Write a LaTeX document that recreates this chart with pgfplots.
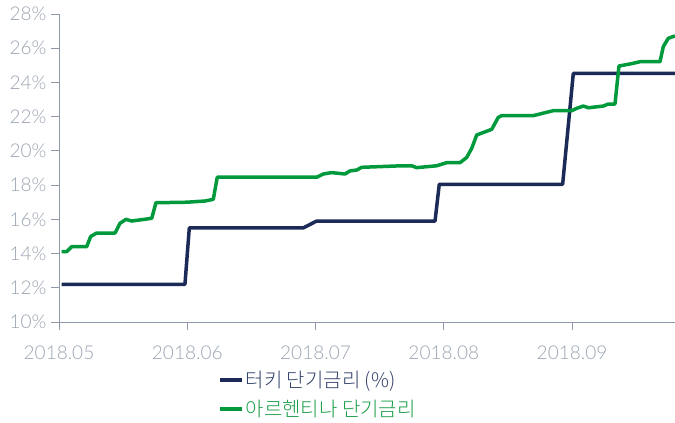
\documentclass[border=0pt]{standalone}
\usepackage{pgfplots}
\pgfplotsset{compat=1.18}
\usepackage{fontspec}
\setmainfont{Lato Light}
\newfontfamily\kr{Noto Sans CJK KR Light}
\definecolor{navyline}{HTML}{1B2A56}
\definecolor{greenline}{HTML}{00993C}
\definecolor{ticklab}{HTML}{9AA4B2}
\definecolor{axisgray}{HTML}{8E9AAA}
\definecolor{legnavy}{HTML}{34436A}
\definecolor{leggreen}{HTML}{1A9E48}
\begin{document}
\begin{tikzpicture}
\path[use as bounding box] (-59pt,-101pt) rectangle (616pt,322pt);
\begin{axis}[
  scale only axis, width=616pt, height=308pt,
  xmin=0, xmax=4.803, ymin=10, ymax=28,
  axis x line=bottom, axis y line=left,
  axis line style={-, axisgray, line width=0.9pt},
  tick style={axisgray, line width=0.9pt},
  tick align=outside, major tick length=8pt,
  xtick={0,1,2,3,4},
  xticklabels={2018.05,2018.06,2018.07,2018.08,2018.09},
  ytick={10,12,...,28},
  yticklabel={\pgfmathprintnumber{\tick}\%},
  /pgf/number format/assume math mode=true,
  ticklabel style={font=\fontsize{19}{21}\selectfont, text=ticklab},
  xticklabel style={yshift=-12pt},
  yticklabel style={xshift=-1pt},
  clip=false,
  legend style={at={(0.258,-0.152)}, anchor=north west, draw=none, fill=none,
    font=\kr\fontsize{20}{23}\selectfont, row sep=7pt,
    cells={anchor=west}, inner sep=0pt},
  legend image code/.code={\draw[#1, line width=3.5pt] (0pt,0pt) -- (22pt,0pt);},
]
\addplot[navyline, line width=3.5pt, line join=round] coordinates {
(0.021,12.2) (0.982,12.2) (1.016,15.5) (1.905,15.5) (2.009,15.9) (2.932,15.9)
(2.965,18.05) (3.927,18.05) (4.010,24.53) (4.803,24.53)
};
\addlegendentry{\textcolor{legnavy}{터키 단기금리 (\%)}}
\addplot[greenline, line width=3.5pt, line join=round] coordinates {
(0.021,14.11) (0.060,14.11) (0.099,14.4) (0.216,14.4) (0.247,15.0) (0.294,15.2)
(0.437,15.2) (0.476,15.77) (0.522,16.0) (0.567,15.9) (0.723,16.06) (0.756,16.97)
(0.996,17.0) (1.138,17.07) (1.203,17.17) (1.234,18.46) (2.009,18.46) (2.061,18.65)
(2.126,18.73) (2.230,18.65) (2.269,18.83) (2.321,18.88) (2.360,19.04) (2.672,19.13)
(2.750,19.13) (2.789,19.02) (2.945,19.13) (3.023,19.31) (3.127,19.31) (3.179,19.62)
(3.218,20.15) (3.257,20.93) (3.374,21.26) (3.425,21.96) (3.452,22.06) (3.698,22.06)
(3.854,22.35) (3.998,22.35) (4.037,22.49) (4.088,22.62) (4.127,22.52) (4.244,22.62)
(4.283,22.74) (4.335,22.74) (4.366,24.96) (4.452,25.08) (4.530,25.21) (4.686,25.21)
(4.712,26.1) (4.751,26.58) (4.803,26.72)
};
\addlegendentry{\textcolor{leggreen}{아르헨티나 단기금리}}
\end{axis}
\end{tikzpicture}
\end{document}
